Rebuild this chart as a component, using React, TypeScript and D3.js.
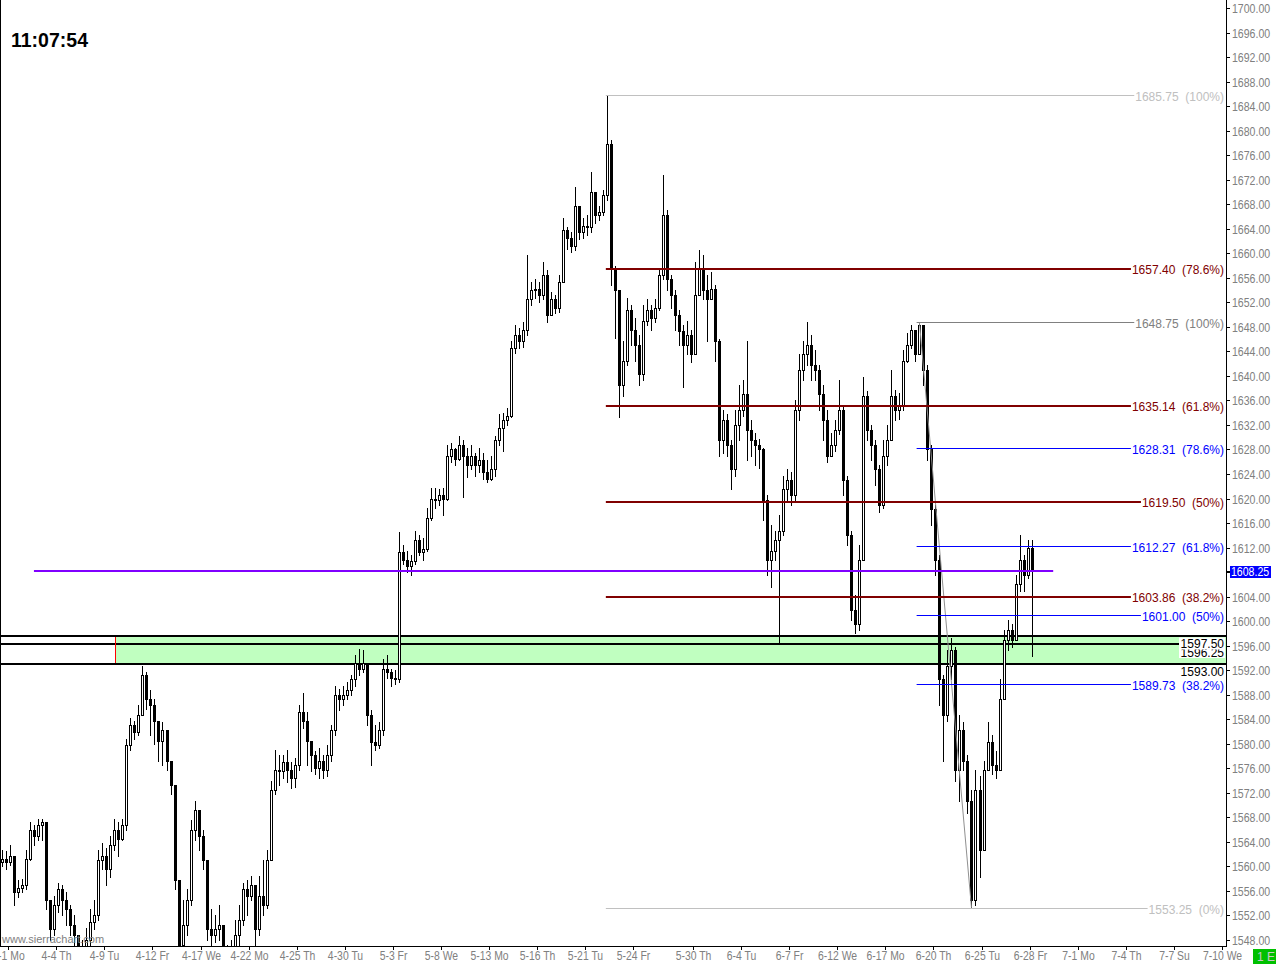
import * as d3 from "d3";

// ES futures, 4 bars per trading day, 4-1 .. 6-28 (last bar still forming)
const firstOpen = 1560.75;

const closes = [
  1561.25, 1560.75, 1561.75, 1555.75, 1556.5, 1557.0, 1561.25, 1566.0, 1565.0, 1566.75,
  1567.25, 1554.5, 1549.75, 1553.75, 1556.25, 1554.5, 1553.0, 1550.5, 1548.75, 1545.5,
  1546.5, 1548.0, 1551.0, 1552.0, 1561.0, 1561.75, 1559.5, 1563.5, 1566.0, 1564.5,
  1566.75, 1579.75, 1583.0, 1582.0, 1584.75, 1591.25, 1587.25, 1586.25, 1583.75, 1580.5,
  1582.25, 1577.25, 1573.25, 1557.75, 1547.25, 1550.5, 1554.5, 1566.0, 1569.25, 1565.0,
  1561.0, 1549.75, 1548.75, 1549.75, 1550.5, 1545.5, 1544.75, 1546.5, 1548.75, 1551.25,
  1556.25, 1555.25, 1557.0, 1549.75, 1555.25, 1553.75, 1561.0, 1572.5, 1575.75, 1575.5,
  1577.0, 1575.75, 1574.5, 1576.5, 1585.25, 1583.75, 1580.5, 1578.25, 1576.0, 1577.25,
  1575.75, 1578.25, 1582.25, 1588.0, 1587.25, 1588.0, 1588.75, 1590.5, 1593.25, 1592.25,
  1593.25, 1584.75, 1580.25, 1579.75, 1582.25, 1592.25, 1591.75, 1590.75, 1590.5, 1611.25,
  1610.0, 1609.0, 1609.75, 1613.25, 1611.25, 1611.75, 1616.75, 1620.0, 1619.75, 1620.5,
  1620.0, 1627.0, 1628.0, 1626.5, 1628.75, 1627.0, 1625.5, 1627.0, 1625.5, 1626.25,
  1624.25, 1623.25, 1624.75, 1629.5, 1631.5, 1632.75, 1633.5, 1644.5, 1646.75, 1645.75,
  1647.5, 1652.5, 1654.0, 1654.25, 1653.25, 1656.5, 1650.0, 1652.5, 1651.0, 1655.25,
  1663.75, 1662.5, 1661.25, 1667.75, 1663.5, 1664.5, 1664.25, 1670.0, 1666.25, 1666.75,
  1669.5, 1677.75, 1657.5, 1654.0, 1638.5, 1642.5, 1650.75, 1647.5, 1645.0, 1640.25,
  1649.0, 1650.75, 1649.5, 1651.0, 1656.5, 1666.25, 1655.75, 1653.25, 1650.0, 1647.25,
  1645.0, 1646.75, 1643.5, 1653.25, 1657.5, 1654.0, 1652.5, 1654.25, 1645.75, 1629.5,
  1632.75, 1628.75, 1624.75, 1632.0, 1634.5, 1637.0, 1631.25, 1629.5, 1628.75, 1628.0,
  1619.75, 1610.0, 1611.5, 1613.25, 1614.75, 1621.5, 1623.0, 1620.5, 1634.5, 1641.0,
  1643.5, 1645.0, 1641.75, 1641.0, 1637.0, 1632.75, 1627.0, 1628.75, 1631.25, 1634.5,
  1623.0, 1614.0, 1601.75, 1599.5, 1610.0, 1636.75, 1631.25, 1628.75, 1624.75, 1619.0,
  1627.0, 1629.5, 1636.75, 1634.5, 1635.25, 1642.5, 1645.0, 1647.5, 1643.5, 1648.25,
  1641.0, 1628.0, 1618.25, 1610.0, 1590.5, 1584.75, 1592.75, 1595.25, 1575.75, 1582.25,
  1577.25, 1570.75, 1554.5, 1572.5, 1562.75, 1575.75, 1580.25, 1576.5, 1575.75, 1587.25,
  1597.0, 1598.5, 1597.0, 1606.0, 1610.0, 1607.5, 1612.0, 1608.25,
];

const highs = [
  1562.75, 1562.5, 1563.5, 1561.75, 1557.75, 1558.0, 1562.75, 1567.25, 1566.75, 1567.75,
  1567.75, 1566.75, 1554.5, 1555.25, 1557.25, 1557.0, 1555.75, 1553.75, 1552.0, 1548.75,
  1548.0, 1550.0, 1553.0, 1554.5, 1562.75, 1563.75, 1563.0, 1565.0, 1567.75, 1567.25,
  1567.75, 1580.75, 1584.25, 1583.75, 1586.25, 1592.75, 1591.75, 1588.75, 1587.25, 1583.75,
  1583.5, 1580.5, 1576.5, 1573.25, 1557.75, 1554.5, 1556.25, 1567.5, 1570.75, 1569.25,
  1566.0, 1561.0, 1553.0, 1552.0, 1553.75, 1550.5, 1547.25, 1548.0, 1551.25, 1553.75,
  1557.25, 1557.75, 1558.5, 1557.0, 1558.5, 1561.0, 1562.75, 1574.0, 1579.0, 1578.25,
  1578.25, 1579.0, 1577.0, 1577.75, 1586.25, 1588.25, 1585.25, 1580.5, 1578.75, 1579.25,
  1578.25, 1579.75, 1583.0, 1589.5, 1589.0, 1589.5, 1590.0, 1591.25, 1594.5, 1595.5,
  1595.25, 1593.25, 1585.5, 1583.0, 1583.5, 1593.75, 1594.5, 1592.25, 1592.0, 1614.5,
  1612.5, 1611.5, 1610.75, 1614.75, 1614.0, 1613.5, 1618.5, 1621.75, 1621.75, 1621.5,
  1621.75, 1628.75, 1629.0, 1628.25, 1630.25, 1629.5, 1628.25, 1628.75, 1627.5, 1628.25,
  1627.5, 1626.25, 1627.0, 1630.25, 1633.75, 1634.0, 1634.75, 1645.75, 1648.25, 1647.75,
  1648.75, 1659.75, 1655.25, 1655.75, 1655.25, 1658.5, 1657.25, 1653.75, 1653.25, 1656.5,
  1665.75, 1664.25, 1663.5, 1670.75, 1667.75, 1665.75, 1666.25, 1673.25, 1669.5, 1667.75,
  1670.25, 1685.75, 1678.5, 1658.0, 1654.0, 1645.75, 1652.75, 1651.5, 1649.5, 1646.75,
  1651.5, 1652.5, 1651.5, 1652.5, 1657.5, 1672.75, 1667.0, 1656.5, 1654.0, 1650.75,
  1648.25, 1649.0, 1647.5, 1658.5, 1660.5, 1659.75, 1656.5, 1657.0, 1654.75, 1646.0,
  1634.5, 1633.75, 1629.5, 1634.5, 1638.5, 1639.25, 1645.75, 1632.75, 1630.75, 1629.75,
  1628.25, 1620.5, 1615.75, 1614.75, 1617.25, 1623.75, 1624.75, 1624.25, 1636.0, 1643.5,
  1645.75, 1648.75, 1646.75, 1644.25, 1641.75, 1638.5, 1634.5, 1630.75, 1632.75, 1639.25,
  1635.25, 1623.75, 1614.75, 1604.25, 1612.5, 1639.75, 1637.5, 1632.0, 1629.5, 1625.5,
  1629.5, 1632.0, 1641.0, 1637.75, 1637.25, 1644.25, 1647.0, 1648.25, 1647.5, 1648.75,
  1647.5, 1641.75, 1628.75, 1619.0, 1610.75, 1591.25, 1595.25, 1597.25, 1595.75, 1584.75,
  1583.5, 1578.25, 1572.5, 1575.75, 1574.75, 1577.25, 1583.5, 1581.5, 1578.75, 1590.5,
  1598.5, 1600.25, 1599.5, 1607.5, 1614.0, 1610.75, 1613.25, 1613.25,
];

const lows = [
  1560.0, 1559.5, 1560.25, 1553.75, 1555.0, 1555.75, 1556.25, 1561.0, 1563.5, 1564.25,
  1564.25, 1553.0, 1548.0, 1548.75, 1552.5, 1552.0, 1550.5, 1548.75, 1547.25, 1544.0,
  1544.5, 1545.5, 1547.25, 1549.75, 1551.25, 1559.5, 1557.0, 1558.25, 1562.75, 1561.75,
  1564.25, 1566.0, 1579.0, 1580.75, 1581.5, 1584.75, 1585.75, 1581.5, 1580.0, 1577.25,
  1576.5, 1575.75, 1571.75, 1556.25, 1544.75, 1545.5, 1548.75, 1553.75, 1564.25, 1562.75,
  1559.5, 1548.0, 1547.25, 1547.75, 1548.0, 1544.0, 1543.0, 1544.5, 1546.5, 1547.25,
  1550.5, 1552.0, 1554.5, 1547.25, 1548.75, 1552.0, 1553.25, 1561.0, 1571.75, 1573.25,
  1574.5, 1573.75, 1572.75, 1573.0, 1575.75, 1582.5, 1576.5, 1575.5, 1575.0, 1574.5,
  1574.5, 1574.75, 1577.25, 1581.5, 1585.5, 1586.25, 1587.25, 1588.0, 1589.5, 1591.25,
  1591.75, 1583.0, 1576.5, 1579.0, 1579.25, 1581.5, 1590.75, 1589.5, 1589.75, 1590.0,
  1609.25, 1608.0, 1607.5, 1609.25, 1610.75, 1610.0, 1611.5, 1616.5, 1618.5, 1619.0,
  1617.25, 1619.75, 1626.0, 1625.5, 1626.25, 1620.25, 1623.5, 1624.75, 1623.75, 1624.25,
  1623.25, 1622.75, 1623.0, 1623.75, 1628.75, 1627.75, 1632.0, 1633.25, 1643.75, 1644.5,
  1644.75, 1646.75, 1651.5, 1652.75, 1652.0, 1652.5, 1648.75, 1650.0, 1650.25, 1650.5,
  1655.75, 1660.75, 1660.25, 1660.5, 1662.25, 1662.5, 1663.0, 1663.5, 1665.0, 1665.5,
  1666.25, 1668.75, 1654.75, 1646.25, 1633.25, 1636.75, 1641.75, 1645.0, 1642.5, 1638.5,
  1639.25, 1648.25, 1647.5, 1648.75, 1650.75, 1655.75, 1654.0, 1651.0, 1647.5, 1645.0,
  1638.25, 1643.5, 1642.25, 1645.75, 1654.0, 1652.5, 1645.75, 1652.5, 1642.5, 1627.0,
  1627.5, 1627.0, 1621.5, 1623.75, 1629.5, 1633.5, 1626.25, 1627.0, 1625.5, 1625.0,
  1616.5, 1607.5, 1605.5, 1610.0, 1596.5, 1614.0, 1619.75, 1619.0, 1619.75, 1632.75,
  1639.25, 1641.75, 1639.25, 1639.25, 1634.5, 1629.5, 1626.0, 1627.0, 1627.75, 1630.5,
  1620.5, 1612.5, 1600.25, 1598.0, 1598.5, 1610.0, 1629.5, 1626.25, 1622.25, 1617.75,
  1618.5, 1625.5, 1629.5, 1632.75, 1633.0, 1634.5, 1642.25, 1644.5, 1642.5, 1645.0,
  1638.5, 1626.25, 1615.75, 1607.5, 1586.25, 1577.25, 1583.75, 1590.5, 1574.0, 1570.75,
  1575.75, 1568.75, 1553.25, 1553.75, 1558.25, 1563.5, 1575.75, 1575.0, 1574.5, 1576.5,
  1587.25, 1595.25, 1595.75, 1597.0, 1605.0, 1605.0, 1607.0, 1594.25,
];

// date labels and the bar slot where each sits
const dateLabels = [
  "4-1 Mo", "4-4 Th", "4-9 Tu", "4-12 Fr", "4-17 We", "4-22 Mo", "4-25 Th", "4-30 Tu",
  "5-3 Fr", "5-8 We", "5-13 Mo", "5-16 Th", "5-21 Tu", "5-24 Fr", "5-30 Th", "6-4 Tu",
  "6-7 Fr", "6-12 We", "6-17 Mo", "6-20 Th", "6-25 Tu", "6-28 Fr", "7-1 Mo", "7-4 Th",
  "7-7 Su", "7-10 We",
];
const dateBars = [
  1.5, 13.5, 25.5, 37.5, 49.5, 61.5, 73.5, 85.5, 97.5, 109.5, 121.5, 133.5, 145.5,
  157.5, 172.5, 184.5, 196.5, 208.5, 220.5, 232.5, 244.5, 256.5, 268.5, 280.5, 292.5, 304.5,
];

// fib retracement 1: 5-22 high -> 6-24 low
const fibALevels = [1685.75, 1657.4, 1635.14, 1619.5, 1603.86, 1553.25];
const fibAPct = ["100%", "78.6%", "61.8%", "50%", "38.2%", "0%"];
// fib retracement 2: 6-19 high -> 6-24 low
const fibBLevels = [1648.75, 1628.31, 1612.27, 1601.0, 1589.73];
const fibBPct = ["100%", "78.6%", "61.8%", "50%", "38.2%"];

const zoneTop = 1597.5;
const zoneMid = 1596.25;
const zoneBottom = 1593.0;
const lastPrice = 1608.25;
const clock = "11:07:54";

// layout
const W = 1276;
const H = 964;
const plotRight = 1226;
const plotBottom = 946;
const fibAStart = 150.7;
const fibBStart = 228.3;
const swingHighBar = 229;
const swingLowBar = 242;
const lineStart = 7.9;
const lineEnd = 262.4;
const zoneStart = 28.1;

const x = d3.scaleLinear().domain([0, 304.5]).range([2.3, 1221.8]);
const y = d3.scaleLinear().domain([1548, 1700]).range([940, 8]);
const priceTicks = d3.range(1548, 1701, 4);
const fmt = d3.format(".2f");

const FONT = "'Liberation Sans', Arial, sans-serif";

let ctx: CanvasRenderingContext2D | null = null;
function textWidth(s: string, size: number) {
  if (!ctx) ctx = document.createElement("canvas").getContext("2d");
  if (!ctx) return s.length * size * 0.55;
  ctx.font = `${size}px 'Liberation Sans', Arial, sans-serif`;
  return ctx.measureText(s).width;
}

const crisp = (v: number) => Math.round(v) + 0.5;

function FibLevel({
  price,
  pct,
  start,
  color,
  width,
}: {
  price: number;
  pct: string;
  start: number;
  color: string;
  width: number;
}) {
  const label = `${fmt(price)}  (${pct})`;
  const tw = textWidth(label, 12);
  const yy = width === 2 ? Math.round(y(price)) : crisp(y(price));
  return (
    <g>
      <line
        x1={x(start)}
        x2={1224 - tw - 1}
        y1={yy}
        y2={yy}
        stroke={color}
        strokeWidth={width}
      />
      <text
        x={1224}
        y={yy + 5}
        textAnchor="end"
        fontSize={12}
        fill={color}
        style={{ whiteSpace: "pre" }}
      >
        {label}
      </text>
    </g>
  );
}

export default function App() {
  const yTop = Math.round(y(zoneTop));
  const yMid = Math.round(y(zoneMid));
  const yBot = Math.round(y(zoneBottom));
  const zx = Math.round(x(zoneStart));

  return (
    <svg
      width={W}
      height={H}
      style={{ position: "absolute", left: 0, top: 0, background: "#fff" }}
      fontFamily={FONT}
    >
      <defs>
        <clipPath id="plot">
          <rect x={0} y={0} width={plotRight} height={plotBottom} />
        </clipPath>
      </defs>

      {/* zone */}
      <g clipPath="url(#plot)">
        <rect x={zx} y={yTop} width={plotRight - zx} height={yBot - yTop} fill="#c0ffc0" />
        <line x1={0} x2={plotRight} y1={yTop} y2={yTop} stroke="#000" strokeWidth={2} />
        <line x1={0} x2={1180} y1={yMid} y2={yMid} stroke="#000" strokeWidth={2} />
        <line x1={0} x2={plotRight} y1={yBot} y2={yBot} stroke="#000" strokeWidth={2} />
        <line x1={zx + 0.5} x2={zx + 0.5} y1={yTop + 1} y2={yBot - 1} stroke="#ff0000" />
      </g>

      {/* candles */}
      <g clipPath="url(#plot)">
        {closes.map((c, i) => {
          const o = i === 0 ? firstOpen : closes[i - 1];
          const cx = crisp(x(i));
          const up = c >= o;
          const top = Math.round(y(Math.max(o, c)));
          const bot = Math.round(y(Math.min(o, c)));
          const hi = Math.max(highs[i], o, c);
          const lo = Math.min(lows[i], o, c);
          return (
            <g key={i}>
              <line x1={cx} x2={cx} y1={Math.round(y(hi))} y2={Math.round(y(lo)) + 1} stroke="#000" />
              <rect
                x={cx - 1}
                y={top + 0.5}
                width={2}
                height={Math.max(bot - top, 1)}
                fill={up ? "#fff" : "#000"}
                stroke="#000"
              />
            </g>
          );
        })}
      </g>

      {/* drawings */}
      <g clipPath="url(#plot)">
        <line
          x1={x(swingHighBar)}
          y1={y(fibBLevels[0])}
          x2={x(swingLowBar)}
          y2={y(fibALevels[5])}
          stroke="#909090"
        />
        {fibALevels.map((v, i) => {
          const edge = i === 0 || i === fibALevels.length - 1;
          return (
            <FibLevel
              key={"a" + i}
              price={v}
              pct={fibAPct[i]}
              start={fibAStart}
              color={edge ? "#c0c0c0" : "#800000"}
              width={edge ? 1 : 2}
            />
          );
        })}
        {fibBLevels.map((v, i) => (
          <FibLevel
            key={"b" + i}
            price={v}
            pct={fibBPct[i]}
            start={fibBStart}
            color={i === 0 ? "#808080" : "#0000ff"}
            width={1}
          />
        ))}
        <line
          x1={x(lineStart)}
          x2={x(lineEnd)}
          y1={Math.round(y(lastPrice))}
          y2={Math.round(y(lastPrice))}
          stroke="#8000ff"
          strokeWidth={2}
        />

        {/* zone labels */}
        <rect x={1179} y={647} width={46} height={11} fill="#fff" />
        <text x={1224} y={656.5} textAnchor="end" fontSize={12} fill="#000">
          {fmt(zoneMid)}
        </text>
        <rect x={1179} y={637.5} width={46} height={12} fill="#fff" />
        <text x={1224} y={647.5} textAnchor="end" fontSize={12} fill="#000">
          {fmt(zoneTop)}
        </text>
        <text x={1224} y={676} textAnchor="end" fontSize={12} fill="#000">
          {fmt(zoneBottom)}
        </text>
      </g>

      {/* left border */}
      <line x1={0.5} x2={0.5} y1={0} y2={plotBottom} stroke="#000" />

      {/* right price axis */}
      <line x1={plotRight + 0.5} x2={plotRight + 0.5} y1={0} y2={plotBottom} stroke="#000" />
      {priceTicks.map((p) => {
        const yy = crisp(y(p));
        return (
          <g key={p}>
            <line x1={plotRight} x2={plotRight + 4} y1={yy} y2={yy} stroke="#000" />
            <text
              transform={`translate(1232,${yy + 4}) scale(0.88,1)`}
              fontSize={12}
              fill="#808080"
            >
              {fmt(p)}
            </text>
          </g>
        );
      })}
      <line
        x1={plotRight}
        x2={plotRight + 4}
        y1={crisp(y(lastPrice))}
        y2={crisp(y(lastPrice))}
        stroke="#000"
      />
      <rect x={1230} y={Math.round(y(lastPrice)) - 5} width={41} height={12} fill="#0000ff" />
      <text
        transform={`translate(1231,${Math.round(y(lastPrice)) + 5}) scale(0.88,1)`}
        fontSize={12}
        fill="#fff"
      >
        {fmt(lastPrice)}
      </text>

      {/* bottom date axis */}
      <line x1={0} x2={plotRight + 1} y1={plotBottom + 0.5} y2={plotBottom + 0.5} stroke="#000" />
      {dateLabels.map((d, i) => {
        const cx = crisp(x(dateBars[i]));
        return (
          <g key={d}>
            <line x1={cx} x2={cx} y1={plotBottom} y2={plotBottom + 4} stroke="#000" />
            <text
              transform={`translate(${cx},959.5) scale(0.8,1)`}
              textAnchor="middle"
              fontSize={13}
              fill="#808080"
            >
              {d}
            </text>
          </g>
        );
      })}

      <rect x={1253} y={949} width={23} height={15} fill="#00c000" />
      <text x={1257} y={961} fontSize={12} fill="#c8c8c8">
        1 E
      </text>

      <text x={2} y={943} fontSize={11} fill="#808080">
        www.sierrachart.com
      </text>

      <text x={11} y={47} fontSize={19.5} fontWeight="bold" fill="#000">
        {clock}
      </text>
    </svg>
  );
}
